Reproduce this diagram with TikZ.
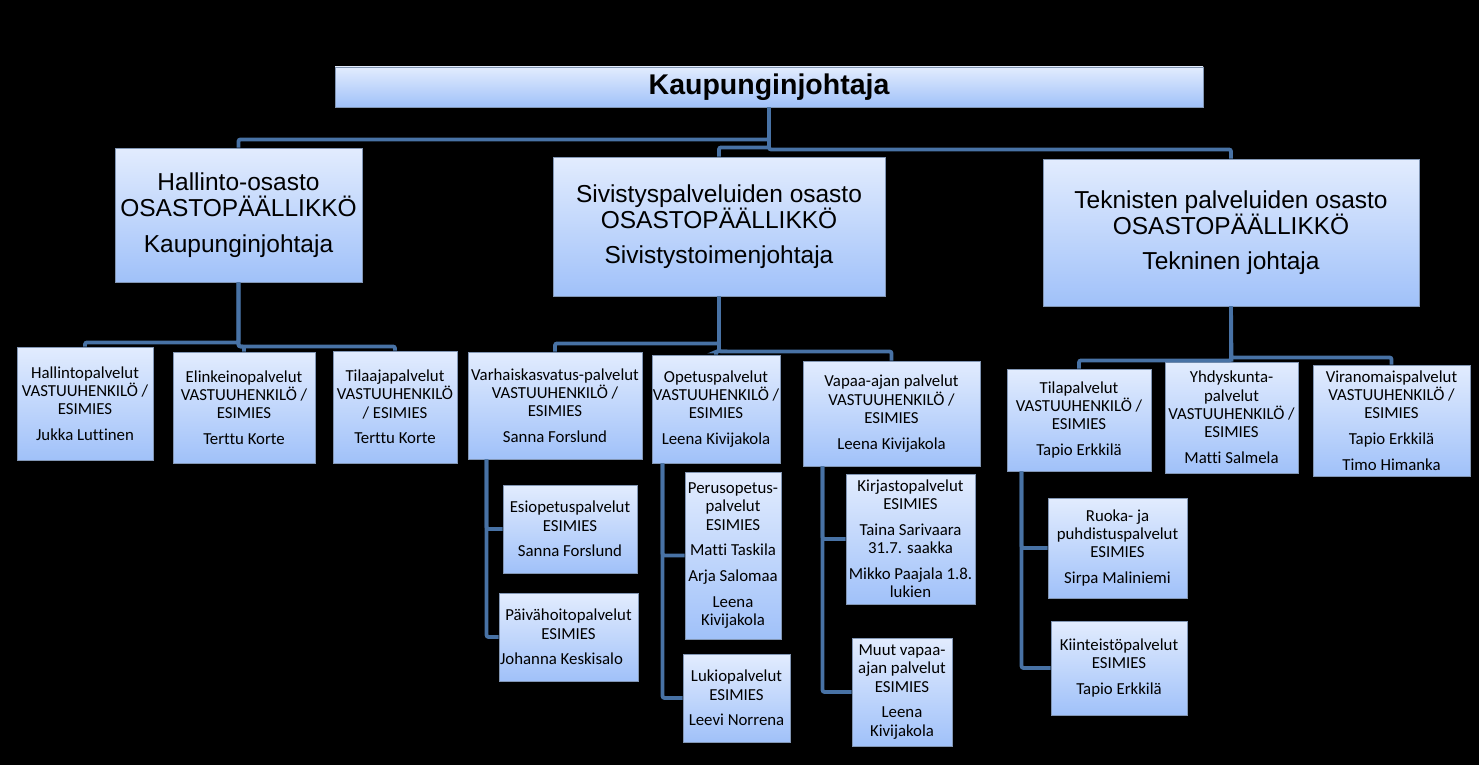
\documentclass[tikz,border=0pt]{standalone}
\usepackage{fontspec}
\setmainfont[Ligatures={NoCommon}]{Carlito}
\newfontfamily\arialf{Liberation Sans}
\definecolor{boxtop}{RGB}{226,236,254}
\definecolor{boxbot}{RGB}{160,193,249}
\definecolor{boxline}{RGB}{130,150,180}
\definecolor{connc}{RGB}{72,114,165}
\begin{document}
\begin{tikzpicture}[x=1pt,y=-1pt,
  box/.style={draw=boxline, line width=0.9pt, top color=boxtop, bottom color=boxbot,
    align=center, inner sep=0pt, text=black, font=\fontsize{16.8}{18.3}\selectfont},
  hbox/.style={box, font=\arialf\fontsize{24.5}{26}\selectfont},
  conn/.style={draw=connc, line width=3.8pt, rounded corners=2pt}]
\fill[black] (0,0) rectangle (1479,765);
\useasboundingbox (0,0) rectangle (1479,765);

% top
\node[box, font=\arialf\bfseries\fontsize{28.5}{30}\selectfont, minimum width=868, minimum height=40] (top) at (769,87) {Kaupunginjohtaja};

% departments
\node[hbox, minimum width=247, minimum height=134] (hall) at (238.5,215) {Hallinto-osasto\\OSASTOPÄÄLLIKKÖ\\[9.5pt]Kaupunginjohtaja};
\node[hbox, minimum width=332, minimum height=139] (siv) at (719,226.5) {Sivistyspalveluiden osasto\\OSASTOPÄÄLLIKKÖ\\[9.5pt]Sivistystoimenjohtaja};
\node[hbox, minimum width=376, minimum height=147] (tek) at (1231,232.5) {Teknisten palveluiden osasto\\OSASTOPÄÄLLIKKÖ\\[9.5pt]Tekninen johtaja};

% Hallinto children
\node[box, minimum width=136, minimum height=113] (hp) at (85,403.5) {Hallintopalvelut\\VASTUUHENKILÖ /\\ESIMIES\\[7.4pt]Jukka Luttinen};
\node[box, minimum width=142, minimum height=111] (ep) at (244,407.5) {Elinkeinopalvelut\\VASTUUHENKILÖ /\\ESIMIES\\[7.4pt]Terttu Korte};
\node[box, minimum width=124, minimum height=112] (tp) at (395,407) {Tilaajapalvelut\\VASTUUHENKILÖ\\/ ESIMIES\\[7.4pt]Terttu Korte};

% Sivistys children
\node[box, minimum width=174, minimum height=107] (vk) at (555,405.5) {Varhaiskasvatus-palvelut\\VASTUUHENKILÖ /\\ESIMIES\\[7.4pt]Sanna Forslund};
\node[box, minimum width=128, minimum height=108] (op) at (716,409) {Opetuspalvelut\\VASTUUHENKILÖ /\\ESIMIES\\[7.4pt]Leena Kivijakola};
\node[box, minimum width=177, minimum height=105] (va) at (891.5,413.5) {Vapaa-ajan palvelut\\VASTUUHENKILÖ /\\ESIMIES\\[7.4pt]Leena Kivijakola};

\node[box, minimum width=134, minimum height=88] (eo) at (570,529) {Esiopetuspalvelut\\ESIMIES\\[7.4pt]Sanna Forslund};
\node[box, minimum width=139, minimum height=88] (ph) at (568.5,637) {Päivähoitopalvelut\\ESIMIES\\[7.4pt]\hspace*{-14pt}Johanna Keskisalo};
\node[box, minimum width=96, minimum height=167] (po) at (733,555.5) {Perusopetus-\\palvelut\\ESIMIES\\[7.4pt]Matti Taskila\\[7.4pt]Arja Salomaa\\[7.4pt]Leena\\Kivijakola};
\node[box, minimum width=107, minimum height=88] (lu) at (736.5,698) {Lukiopalvelut\\ESIMIES\\[7.4pt]Leevi Norrena};
\node[box, minimum width=129, minimum height=130] (ki) at (910.5,539) {Kirjastopalvelut\\ESIMIES\\[7.4pt]Taina Sarivaara\\31.7. saakka\\[7.4pt]Mikko Paajala 1.8.\\lukien};
\node[box, minimum width=100, minimum height=108] (mu) at (902,692) {Muut vapaa-\\ajan palvelut\\ESIMIES\\[7.4pt]Leena\\Kivijakola};

% Tekniset children
\node[box, minimum width=144, minimum height=102] (ti) at (1079,420) {Tilapalvelut\\VASTUUHENKILÖ /\\ESIMIES\\[7.4pt]Tapio Erkkilä};
\node[box, minimum width=133, minimum height=111] (yh) at (1231.5,417.5) {Yhdyskunta-\\palvelut\\VASTUUHENKILÖ /\\ESIMIES\\[7.4pt]Matti Salmela};
\node[box, minimum width=157, minimum height=111] (vi) at (1391.5,420.5) {Viranomaispalvelut\\VASTUUHENKILÖ /\\ESIMIES\\[7.4pt]Tapio Erkkilä\\[7.4pt]Timo Himanka};
\node[box, minimum width=139, minimum height=100] (ru) at (1117.5,548) {Ruoka- ja\\puhdistuspalvelut\\ESIMIES\\[7.4pt]Sirpa Maliniemi};
\node[box, minimum width=136, minimum height=94] (kii) at (1119,668) {Kiinteistöpalvelut\\ESIMIES\\[7.4pt]Tapio Erkkilä};

% connectors: top level
\draw[conn] (top.south) -- ++(0,32) -| (hall.north);
\draw[conn] (top.south) -- ++(0,40) -| (siv.north);
\draw[conn] (top.south) -- ++(0,42) -| (tek.north);

% Hallinto
\draw[conn] (hall.south) -- ++(0,60) -| (hp.north);
\draw[conn] (hall.south) -- ++(0,64) -| (ep.north);
\draw[conn] (hall.south) -- ++(0,64) -| (tp.north);

% Sivistys
\draw[conn] (siv.south) -- ++(0,47) -| (vk.north);
\draw[conn] (siv.south) -- ++(0,55) -| (op.north);
\draw[conn] (siv.south) -- ++(0,55) -| (va.north);

\coordinate (vkd) at ([xshift=19pt]vk.south west);
\draw[conn] (vkd) |- (eo.west);
\draw[conn] (vkd) |- (ph.west);
\coordinate (opd) at ([xshift=11pt]op.south west);
\draw[conn] (opd) |- (po.west);
\draw[conn] (opd) |- (lu.west);
\coordinate (vad) at ([xshift=20pt]va.south west);
\draw[conn] (vad) |- (ki.west);
\draw[conn] (vad) |- (mu.west);

% Tekniset
\draw[conn] (tek.south) -- ++(0,54) -| (ti.north);
\draw[conn] (tek.south) -- (yh.north);
\draw[conn] (tek.south) -- ++(0,51) -| (vi.north);
\coordinate (tid) at ([xshift=15pt]ti.south west);
\draw[conn] (tid) |- (ru.west);
\draw[conn] (tid) |- (kii.west);
\end{tikzpicture}
\end{document}
